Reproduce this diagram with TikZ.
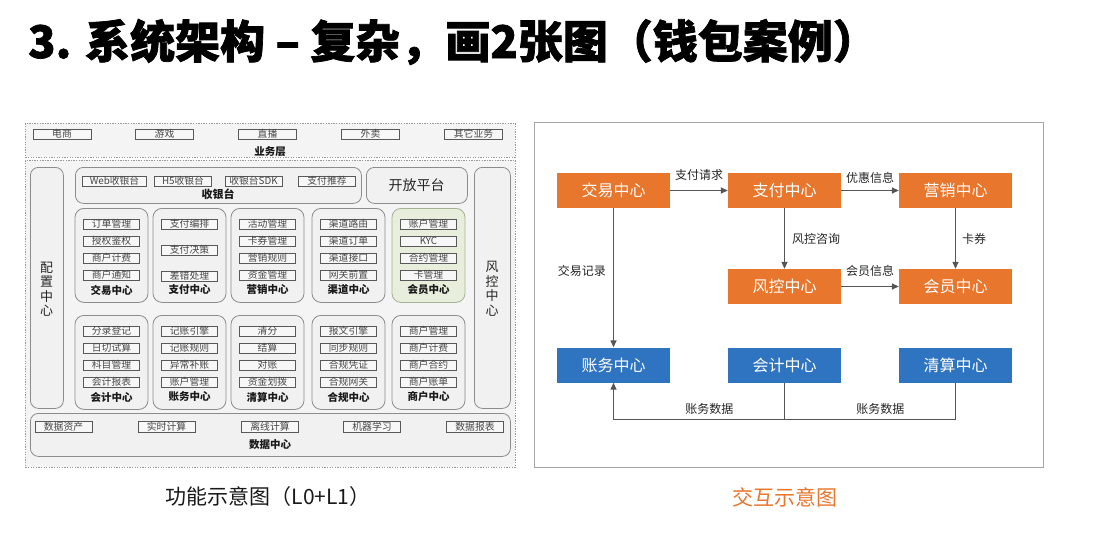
\documentclass[tikz,border=0pt]{standalone}
\usepackage{fontspec}
\setmainfont{Noto Sans CJK SC}
\newfontfamily\titlefont{Noto Sans CJK SC}[BoldFeatures={FakeBold=1.6}]
\usetikzlibrary{arrows.meta}
\definecolor{orng}{HTML}{E8762D}
\definecolor{blu}{HTML}{2F74C0}
\definecolor{panel}{HTML}{F4F4F4}
\definecolor{grpfill}{HTML}{F1F1F1}
\definecolor{vipfill}{HTML}{E7EFDC}
\definecolor{vipedge}{HTML}{A3B394}
\definecolor{edge}{HTML}{555555}
\newcommand\grpfour[9]{%
  \node[#9, anchor=north] (#1) at (#2,#3) {};
  \node[itm] (#1a) at (#2,#3+16) {#5};
  \node[itm] (#1b) at (#2,#3+33) {#6};
  \node[itm] (#1c) at (#2,#3+50) {#7};
  \node[itm] (#1d) at (#2,#3+67) {#8};
  \node[glbl] (#1l) at (#2,#3+82) {#4};
}
\begin{document}
\begin{tikzpicture}[x=1pt,y=-1pt,
  fs/.style={font=\fontsize{#1}{#1}\selectfont},
  dbox/.style={draw=gray!80, dash pattern=on 1.3pt off 1.3pt, fill=panel, line width=0.7pt, inner sep=0pt},
  grp/.style={draw=gray!90, fill=grpfill, rounded corners=9pt, line width=0.8pt, minimum width=73pt, minimum height=94pt, inner sep=0pt},
  vipgrp/.style={grp, draw=vipedge, fill=vipfill},
  rbox/.style={draw=gray!90, fill=grpfill, rounded corners=8pt, line width=0.8pt, inner sep=0pt},
  itm/.style={draw=black!65, fill=white!97!black, minimum width=56pt, minimum height=10.5pt, inner sep=0pt, fs=9.8, text=black!72},
  glbl/.style={font=\fontsize{10.5}{10.5}\selectfont\bfseries, text=black!90, inner sep=0pt},
  vtxt/.style={align=center, font=\fontsize{13}{14.5}\selectfont, text=black!85, inner sep=0pt},
  obox/.style={fill=orng, text=white, minimum width=113pt, minimum height=35pt, inner sep=0pt, fs=16},
  bbox/.style={obox, fill=blu},
  conn/.style={draw=edge, line width=1.4pt},
  arr/.style={conn, -{Triangle[length=7pt,width=6pt]}},
  lbl/.style={fs=12, text=black!85, inner sep=1pt}
]
\useasboundingbox (0,0) rectangle (1093,549);
\fill[white] (0,0) rectangle (1093,549);

% title
\node[anchor=west, inner sep=0pt, font=\titlefont\fontsize{45}{45}\selectfont\bfseries] (title) at (28,42) {3. 系统架构 – 复杂，画2张图（钱包案例）};

% ---------- left: functional diagram ----------
\node[dbox, anchor=north west, minimum width=490pt, minimum height=34pt] (biz) at (25,123) {};
\node[itm, minimum width=58pt] (b1) at (62,134) {电商};
\node[itm, minimum width=58pt] (b2) at (164.5,134) {游戏};
\node[itm, minimum width=58pt] (b3) at (267.5,134) {直播};
\node[itm, minimum width=58pt] (b4) at (370.5,134) {外卖};
\node[itm, minimum width=58pt] (b5) at (473.5,134) {其它业务};
\node[glbl] (bizl) at (270,152) {业务层};

\node[dbox, anchor=north west, minimum width=490pt, minimum height=307pt] (core) at (25,160) {};

\node[rbox, anchor=north west, minimum width=33pt, minimum height=241pt] (pz) at (30,167) {};
\node[vtxt] (pzt) at (46.5,289) {配\\置\\中\\心};
\node[rbox, anchor=north west, minimum width=36pt, minimum height=241pt] (fk) at (474,167) {};
\node[vtxt] (fkt) at (492,289) {风\\控\\中\\心};

\node[rbox, anchor=north west, minimum width=286pt, minimum height=36pt] (syt) at (75,167) {};
\node[itm, minimum width=64pt] (s1) at (114.5,181) {Web收银台};
\node[itm, minimum width=57pt] (s2) at (183,181) {H5收银台};
\node[itm, minimum width=57pt] (s3) at (253.5,181) {收银台SDK};
\node[itm, minimum width=57pt] (s4) at (327,181) {支付推荐};
\node[glbl, font=\fontsize{11}{11}\selectfont\bfseries] (sytl) at (218,194) {收银台};

\node[rbox, anchor=north west, minimum width=101pt, minimum height=36pt] (kf) at (366,167) {};
\node[fs=14, text=black!85] (kft) at (416.5,185) {开放平台};

% upper row
\grpfour{jy}{111.5}{208}{交易中心}{订单管理}{授权鉴权}{商户计费}{商户通知}{grp}
\node[grp, anchor=north] (zf) at (189.5,208) {};
\node[itm] (zfa) at (189.5,224) {支付编排};
\node[itm] (zfb) at (189.5,250) {支付决策};
\node[itm] (zfc) at (189.5,276) {差错处理};
\node[glbl] (zfl) at (189.5,290) {支付中心};
\grpfour{yx}{267.5}{208}{营销中心}{活动管理}{卡券管理}{营销规则}{资金管理}{grp}
\grpfour{qd}{348.5}{208}{渠道中心}{渠道路由}{渠道订单}{渠道接口}{网关前置}{grp}
\grpfour{hy}{428.5}{208}{会员中心}{账户管理}{KYC}{合约管理}{卡管理}{vipgrp}

% lower row
\grpfour{kj}{111.5}{315}{会计中心}{分录登记}{日切试算}{科目管理}{会计报表}{grp}
\grpfour{zw}{189.5}{315}{账务中心}{记账引擎}{记账规则}{异常补账}{账户管理}{grp}
\grpfour{qs}{267.5}{315}{清算中心}{清分}{结算}{对账}{资金划拨}{grp}
\grpfour{hg}{348.5}{315}{合规中心}{报文引擎}{同步规则}{合规凭证}{合规网关}{grp}
\grpfour{sh}{428.5}{315}{商户中心}{商户管理}{商户计费}{商户合约}{商户账单}{grp}

% data center
\node[rbox, anchor=north west, minimum width=480pt, minimum height=43pt] (sj) at (30,413) {};
\node[itm, minimum width=57pt] (d1) at (63.5,426.5) {数据资产};
\node[itm, minimum width=57pt] (d2) at (166.5,426.5) {实时计算};
\node[itm, minimum width=57pt] (d3) at (270,426.5) {离线计算};
\node[itm, minimum width=57pt] (d4) at (372,426.5) {机器学习};
\node[itm, minimum width=57pt] (d5) at (475,426.5) {数据报表};
\node[glbl] (sjl) at (270,445) {数据中心};

\node[fs=21, text=black!90] (cap1) at (268,497) {功能示意图（L0+L1）};

% ---------- right: interaction diagram ----------
\draw[gray!70, line width=1pt] (534,122) rectangle (1043,467);
\node[obox] (Rjy) at (613.5,190.5) {交易中心};
\node[obox] (Rzf) at (784.5,190.5) {支付中心};
\node[obox] (Ryx) at (955.5,190.5) {营销中心};
\node[obox] (Rfk) at (784.5,286.5) {风控中心};
\node[obox] (Rhy) at (955.5,286.5) {会员中心};
\node[bbox] (Rzw) at (613.5,365) {账务中心};
\node[bbox] (Rkj) at (784.5,365) {会计中心};
\node[bbox] (Rqs) at (955.5,365) {清算中心};

\draw[arr] (Rjy) -- node[lbl, above=8pt] {支付请求} (Rzf);
\draw[arr] (Rzf) -- node[lbl, above=5pt] {优惠信息} (Ryx);
\draw[arr] (Rzf) -- node[lbl, right=6pt] {风控咨询} (Rfk);
\draw[arr] (Ryx) -- node[lbl, right=5pt] {卡券} (Rhy);
\draw[arr] (Rfk) -- node[lbl, above=8pt] {会员信息} (Rhy);
\draw[arr] (Rjy) -- node[lbl, left=6pt, pos=0.45] {交易记录} (Rzw);
\path (Rzw.south) ++(0,36.5) coordinate (jl);
\draw[conn] (Rkj.south) -- (Rkj.south |- jl);
\draw[arr] (Rqs.south) |- node[lbl, above=3pt, pos=0.61] {账务数据} node[lbl, above=3pt, pos=0.86] {账务数据} (jl) -- (Rzw.south);

\node[fs=21, text=orng] (cap2) at (785,497) {交互示意图};
\end{tikzpicture}
\end{document}
